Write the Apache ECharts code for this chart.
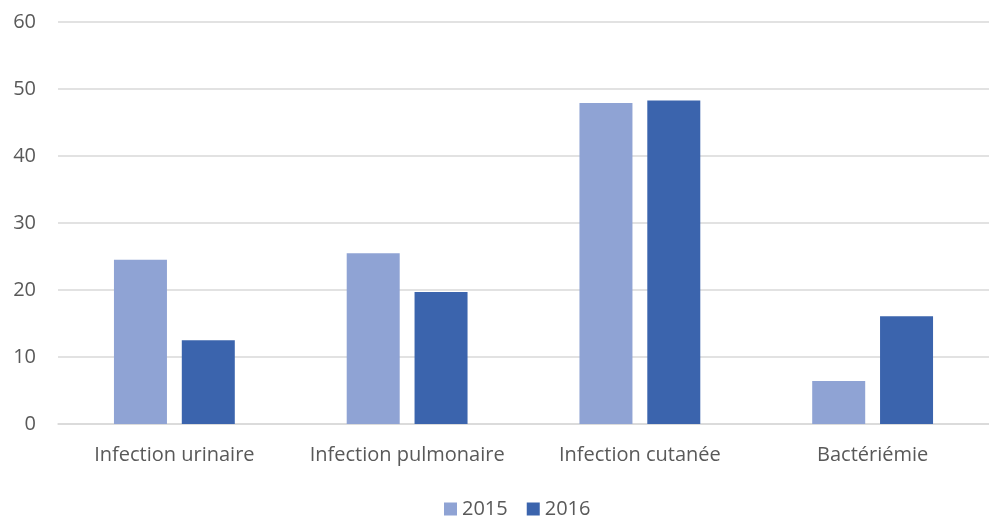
<!DOCTYPE html>
<html><head><meta charset="utf-8">
<script src="https://cdn.jsdelivr.net/npm/echarts@6/dist/echarts.min.js"></script>
<style>html,body{margin:0;padding:0;background:#fff}#c{width:989px;height:518px}</style>
</head><body><div id="c"></div>
<script>
const categories = ['Infection urinaire', 'Infection pulmonaire', 'Infection cutanée', 'Bactériémie'];
const seriesNames = ['2015', '2016'];
const values2015 = [24.5, 25.5, 47.9, 6.4];
const values2016 = [12.5, 19.7, 48.3, 16.1];
const yTicks = { min: 0, max: 60, interval: 10 };

const font = 'Open Sans';
const chart = echarts.init(document.getElementById('c'), null, { renderer: 'canvas' });
chart.setOption({
  animation: false,
  textStyle: { fontFamily: font },
  grid: { left: 58, width: 943, top: 22, bottom: 94, containLabel: false },
  legend: {
    data: seriesNames, bottom: -6, left: 439, itemWidth: 13, itemHeight: 13, itemGap: 19,
    icon: 'rect', textStyle: { color: '#595959', fontSize: 20, fontFamily: font }
  },
  xAxis: {
    type: 'category', data: categories,
    axisLine: { lineStyle: { color: '#d9d9d9', width: 1.5 } },
    axisTick: { show: false },
    axisLabel: { color: '#595959', fontSize: 20, margin: 21, interval: 0, fontFamily: font }
  },
  yAxis: {
    type: 'value', min: yTicks.min, max: yTicks.max, interval: yTicks.interval,
    axisLine: { show: false }, axisTick: { show: false },
    splitLine: { lineStyle: { color: '#d9d9d9', width: 1.5 } },
    axisLabel: { color: '#595959', fontSize: 20, margin: 22, fontFamily: font }
  },
  series: [
    { name: seriesNames[0], type: 'bar', data: values2015, barWidth: 53, barGap: '28%',
      itemStyle: { color: '#8FA3D4' } },
    { name: seriesNames[1], type: 'bar', data: values2016, barWidth: 53,
      itemStyle: { color: '#3B64AD' } }
  ]
});
</script></body></html>
